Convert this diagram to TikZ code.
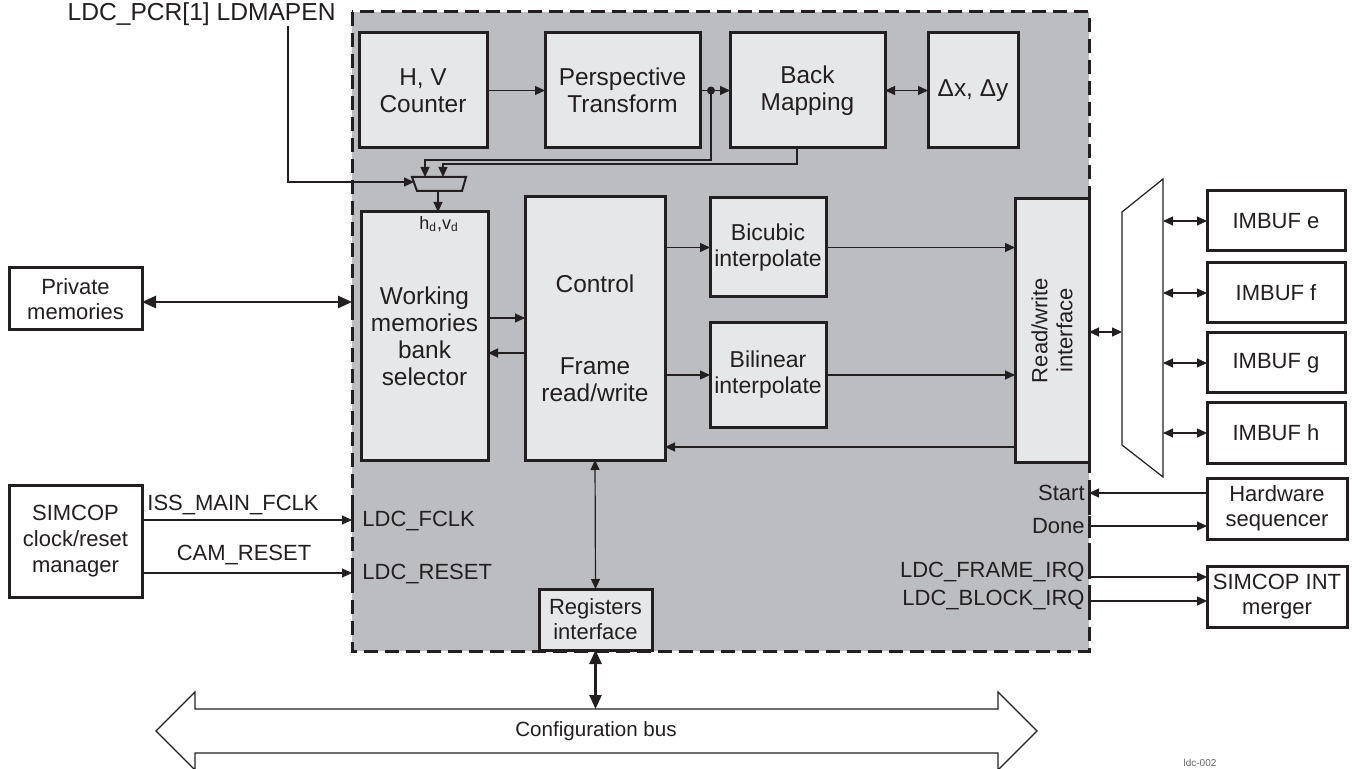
\documentclass[tikz,border=0pt]{standalone}
\usepackage{fontspec}
\setmainfont{Liberation Sans}
\usetikzlibrary{arrows.meta,calc}
\definecolor{outerfill}{HTML}{BCBDC0}
\definecolor{innerfill}{HTML}{E6E7E8}
\definecolor{ink}{HTML}{231F20}
\newcommand\fbig{\fontsize{12.2}{13.5}\selectfont}
\newcommand\fmid{\fontsize{11.5}{13}\selectfont}
\newcommand\fsml{\fontsize{11}{12.5}\selectfont}
\begin{document}
\begin{tikzpicture}[x=0.5pt,y=-0.5pt,
  blk/.style={draw=ink, line width=1.5pt, fill=innerfill, align=center, inner sep=0pt, outer sep=0pt, font=\fbig, text=ink},
  wblk/.style={blk, fill=white, font=\fsml},
  arr/.style={draw=ink, line width=0.6pt, -{Triangle[length=5pt,width=4.5pt]}},
  darr/.style={draw=ink, line width=0.6pt, {Triangle[length=5pt,width=4.5pt]}-{Triangle[length=5pt,width=4.5pt]}},
  tarr/.style={draw=ink, line width=1.3pt, {Triangle[length=7pt,width=6pt]}-{Triangle[length=7pt,width=6pt]}},
  lbl/.style={font=\fsml, text=ink, inner sep=0pt},
  tick/.style={draw=ink, line width=1.5pt}
]
\useasboundingbox (0,0) rectangle (1352,769);
\fill[white] (0,0) rectangle (1352,769);

% main dashed region
\draw[ink, fill=outerfill, line width=1.5pt, dash pattern=on 7pt off 3.5pt] (352,12) rectangle (1089,651);

% top row
\node[blk, minimum width=64pt, minimum height=57.5pt] (hv) at (423,90.5) {H, V\\Counter};
\node[blk, minimum width=77.5pt, minimum height=57.5pt] (pt) at (622.5,90.5) {Perspective\\Transform};
\node[blk, minimum width=77.5pt, minimum height=57.5pt] (bm) at (807.5,90.5) {Back\\Mapping};
\node[blk, minimum width=45pt, minimum height=57.5pt] (dxy) at (973,90.5) {Δx, Δy};

% middle
\node[blk, minimum width=63.5pt, minimum height=124pt] (wm) at (424.5,336) {Working\\memories\\bank\\selector};
\node[blk, minimum width=70pt, minimum height=131.5pt] (ctrl) at (595,328.5) {};
\node[lbl, font=\fbig] (ctrlA) at (595,284) {Control};
\node[lbl, font=\fbig, align=center] (ctrlB) at (595,380) {Frame\\read/write};
\node[blk, font=\fmid, minimum width=58pt, minimum height=49.5pt] (bic) at (768,247.5) {Bicubic\\interpolate};
\node[blk, font=\fmid, minimum width=58pt, minimum height=52pt] (bil) at (768,375) {Bilinear\\interpolate};
\node[blk, minimum width=37pt, minimum height=131.5pt] (rw) at (1052,330.5) {};
\node[lbl, align=center, rotate=90] (rwt) at (1052,330.5) {Read/write\\interface};
\node[blk, font=\fsml, minimum width=56.5pt, minimum height=30.5pt] (reg) at (595.5,619.5) {Registers\\interface};

% right side
\node[wblk, minimum width=69pt, minimum height=30pt] (ime) at (1276,221) {IMBUF e};
\node[wblk, minimum width=69pt, minimum height=30pt] (imf) at (1276,293) {IMBUF f};
\node[wblk, minimum width=69pt, minimum height=30pt] (img) at (1276,363) {IMBUF g};
\node[wblk, minimum width=69pt, minimum height=30pt] (imh) at (1276,433) {IMBUF h};
\node[wblk, minimum width=70pt, minimum height=30.5pt] (hs) at (1277,508.5) {Hardware\\sequencer};
\node[wblk, minimum width=70pt, minimum height=30.5pt] (sim) at (1277,596.5) {SIMCOP INT\\merger};

% left side
\node[wblk, minimum width=66.5pt, minimum height=31pt] (pm) at (75.5,299) {Private\\memories};
\node[wblk, font=\fontsize{11}{12.8}\selectfont, minimum width=66.5pt, minimum height=56pt] (clk) at (75.5,541) {SIMCOP\\clock/reset\\manager};

% labels
\node[lbl, font=\fontsize{12.3}{14}\selectfont, anchor=east] (ldm) at (336,14) {LDC\_PCR[1] LDMAPEN};
\node[lbl, font=\fontsize{9}{10}\selectfont] (hdvd) at (439,224) {h\textsubscript{d},v\textsubscript{d}};
\node[lbl] (issl) at (233,505) {ISS\_MAIN\_FCLK};
\node[lbl] (caml) at (244,555) {CAM\_RESET};
\node[lbl, anchor=west] (fclkl) at (362,521) {LDC\_FCLK};
\node[lbl, anchor=west] (rstl) at (362,574) {LDC\_RESET};
\node[lbl, anchor=east] (startl) at (1085,493) {Start};
\node[lbl, anchor=east] (donel) at (1085,526) {Done};
\node[lbl, anchor=east] (framel) at (1085,572) {LDC\_FRAME\_IRQ};
\node[lbl, anchor=east] (blockl) at (1085,600) {LDC\_BLOCK\_IRQ};

% coordinates
\coordinate (jn) at (711,90.5);
\coordinate (ldmX) at (288,0);
\coordinate (muxIn) at (414,182);
\coordinate (muxA) at (425,177);
\coordinate (muxB) at (443,177);
\coordinate (muxOut) at (438,191);
\coordinate (y318) at (0,318);
\coordinate (y353) at (0,353);
\coordinate (y447) at (0,447);
\coordinate (bmuxL) at (1122,332);
\coordinate (bmuxR) at (1163,0);
\coordinate (pPriv) at (352,302);
\coordinate (pFclk) at (352,520);
\coordinate (pRst) at (352,573);
\coordinate (pStart) at (1089,493);
\coordinate (pDone) at (1089,526);
\coordinate (pFrame) at (1089,577);
\coordinate (pBlock) at (1089,601);
\coordinate (bustop) at (595.5,709);

% port ticks on border
\draw[tick] (352,290) -- (352,314);
\draw[tick] (352,508) -- (352,532);
\draw[tick] (352,561) -- (352,585);
\draw[tick] (1089,481) -- (1089,503);
\draw[tick] (1089,516) -- (1089,538);
\draw[tick] (1089,555) -- (1089,579);
\draw[tick] (1089,591) -- (1089,612);

% small mux
\draw[ink, line width=1pt, fill=outerfill] (412,177) -- (466,177) -- (462,191) -- (417,191) -- cycle;
% big mux
\draw[ink, line width=0.6pt, fill=white] (1122,212) -- (1163,179) -- (1163,477) -- (1122,445) -- cycle;

% connectors top
\draw[arr] (hv.east) -- (pt.west);
\draw[arr] (pt.east) -- (bm.west);
\fill[ink] (jn) circle[radius=2pt];
\draw[darr] (bm.east) -- (dxy.west);
\draw[arr] (jn) -- (711,160) -| (muxA);
\draw[arr] (bm.south -| 797,0) -- (797,164) -| (muxB);
\draw[arr] (ldm.south -| ldmX) |- (muxIn);
\draw[arr] (muxOut) -- (muxOut |- wm.north);

% middle connectors
\draw[arr] (wm.east |- y318) -- (ctrl.west |- y318);
\draw[arr] (ctrl.west |- y353) -- (wm.east |- y353);
\draw[arr] (ctrl.east |- bic.west) -- (bic.west);
\draw[arr] (ctrl.east |- bil.west) -- (bil.west);
\draw[arr] (bic.east) -- (rw.west |- bic.east);
\draw[arr] (bil.east) -- (rw.west |- bil.east);
\draw[arr] (rw.west |- y447) -- (ctrl.east |- y447);
\draw[darr] (ctrl.south) -- (reg.north);
\draw[darr] (rw.east |- bmuxL) -- (bmuxL);
\draw[darr] (ime.west -| bmuxR) -- (ime.west);
\draw[darr] (imf.west -| bmuxR) -- (imf.west);
\draw[darr] (img.west -| bmuxR) -- (img.west);
\draw[darr] (imh.west -| bmuxR) -- (imh.west);

% left connectors
\draw[tarr] (pm.east |- pPriv) -- (pPriv);
\draw[arr] (clk.east |- pFclk) -- (pFclk);
\draw[arr] (clk.east |- pRst) -- (pRst);

% right connectors
\draw[arr] (hs.west |- pStart) -- (pStart);
\draw[arr] (pDone) -- (hs.west |- pDone);
\draw[arr] (pFrame) -- (sim.west |- pFrame);
\draw[arr] (pBlock) -- (sim.west |- pBlock);

% configuration bus
\draw[ink, line width=0.6pt, fill=white] (156,731) -- (195,692) -- (195,709) -- (998,709) -- (998,692) -- (1037,731) -- (998,770) -- (998,753) -- (195,753) -- (195,770) -- cycle;
\node[lbl, font=\fontsize{10.3}{12}\selectfont] (busl) at (596,731) {Configuration bus};
\draw[tarr] (reg.south) -- (bustop);

\node[lbl, font=\fontsize{5}{6}\selectfont, text=ink!70, anchor=south] (fig) at (1200,767) {ldc-002};
\end{tikzpicture}
\end{document}
